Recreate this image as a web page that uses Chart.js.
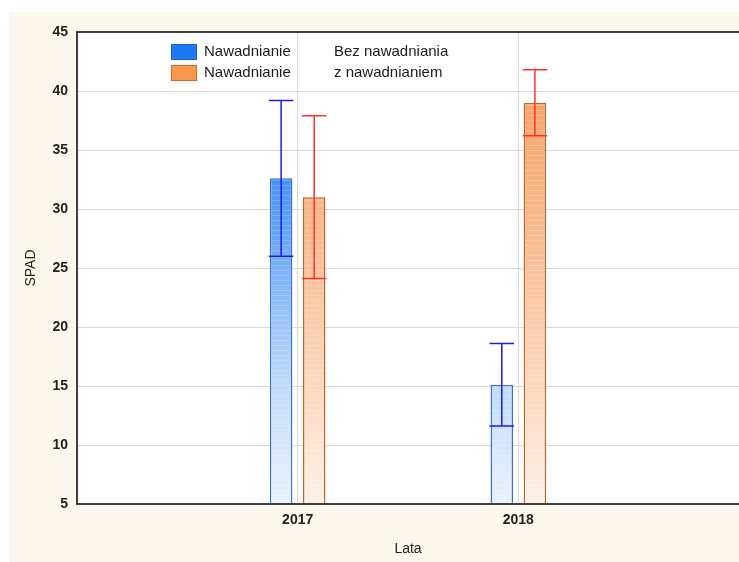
<!DOCTYPE html>
<html>
<head>
<meta charset="utf-8">
<script src="https://cdn.jsdelivr.net/npm/chart.js@4/dist/chart.umd.min.js"></script>
<style>
  html, body { margin: 0; padding: 0; background: #fff; }
  #wrap { width: 739px; height: 562px; position: relative; }
</style>
</head>
<body>
<div id="wrap"><canvas id="spadChart" width="739" height="562"></canvas></div>
<script>
// values
const years = ['2017', '2018'];
const factorName = 'Nawadnianie';
const seriesNames = ['Bez nawadniania', 'z nawadnianiem'];
const bezMean = [32.6, 15.1];
const bezLow = [26.0, 11.6];
const bezHigh = [39.2, 18.6];
const zMean = [31.0, 39.0];
const zLow = [24.1, 36.2];
const zHigh = [37.9, 41.8];
const yMin = 5, yMax = 45, yStep = 5;

// empty slots at both ends so the two years sit at 1/3 and 2/3 of the plot
const labels = [''].concat(years, ['']);
const pad = arr => [null].concat(arr, [null]);

const seriesStyle = [
    { line: '#3a6fd8', err: '#1c1cf0', box: '#1a7cf5', boxLine: '#2457c8',
      stops: [[0, '#1a7cf5'], [0.31, '#4592f3'], [0.75, '#c2dbf8'], [1, '#eaf3fd']] },
    { line: '#bb6428', err: '#ff3030', box: '#f7994f', boxLine: '#c86c2a',
      stops: [[0, '#f4954a'], [0.15, '#f6a46a'], [0.4, '#f8b98c'], [0.75, '#fbd8bf'], [1, '#fdf1e7']] }
];
const errLow = [bezLow, zLow];
const errHigh = [bezHigh, zHigh];

function gradientFill(i) {
    return function (ctx) {
        const ca = ctx.chart.chartArea;
        if (!ca) return seriesStyle[i].box;
        const g = ctx.chart.ctx.createLinearGradient(0, ca.top, 0, ca.bottom);
        seriesStyle[i].stops.forEach(s => g.addColorStop(s[0], s[1]));
        return g;
    };
}

const backdrop = {
    id: 'backdrop',
    beforeDraw(chart) {
        const c = chart.ctx, ca = chart.chartArea;
        c.save();
        c.fillStyle = '#fdf8ee';
        c.fillRect(9, 12, chart.width - 9, chart.height - 12);
        c.fillStyle = '#ffffff';
        c.fillRect(ca.left, ca.top, ca.right - ca.left, ca.bottom - ca.top);
        c.restore();
    }
};

const barsExtra = {
    id: 'barsExtra',
    afterDatasetsDraw(chart) {
        const c = chart.ctx, ca = chart.chartArea;
        const yScale = chart.scales.y;
        c.save();
        // faint horizontal banding inside bars
        chart.data.datasets.forEach((ds, di) => {
            chart.getDatasetMeta(di).data.forEach((el, i) => {
                if (ds.data[i] == null) return;
                const p = el.getProps(['x', 'y', 'base', 'width'], true);
                const l = p.x - p.width / 2 + 2, r = p.x + p.width / 2 - 2;
                const bottom = Math.min(p.base, ca.bottom);
                c.strokeStyle = 'rgba(255,255,255,0.18)';
                c.lineWidth = 1;
                for (let yy = bottom - 3.5; yy > p.y + 2; yy -= 5) {
                    c.beginPath();
                    c.moveTo(l, yy);
                    c.lineTo(r, yy);
                    c.stroke();
                }
            });
        });
        // error bars
        chart.data.datasets.forEach((ds, di) => {
            chart.getDatasetMeta(di).data.forEach((el, i) => {
                if (ds.data[i] == null) return;
                const p = el.getProps(['x', 'width'], true);
                const lo = yScale.getPixelForValue(errLow[di][i - 1]);
                const hi = yScale.getPixelForValue(errHigh[di][i - 1]);
                const half = p.width / 2 + 1;
                c.strokeStyle = seriesStyle[di].err;
                c.lineWidth = 1.5;
                c.beginPath();
                c.moveTo(p.x, lo); c.lineTo(p.x, hi);
                c.moveTo(p.x - half, hi); c.lineTo(p.x + half, hi);
                c.moveTo(p.x - half, lo); c.lineTo(p.x + half, lo);
                c.stroke();
            });
        });
        // plot frame (right side falls just outside the canvas)
        c.strokeStyle = '#404040';
        c.lineWidth = 2;
        c.strokeRect(ca.left, ca.top, ca.right - ca.left + 4, ca.bottom - ca.top);
        c.restore();
    }
};

const legendBox = {
    id: 'legendBox',
    afterDraw(chart) {
        const c = chart.ctx;
        c.save();
        c.font = '15px "Liberation Sans", Arial, sans-serif';
        c.textBaseline = 'middle';
        seriesNames.forEach((name, i) => {
            const top = 44 + i * 21;
            c.fillStyle = seriesStyle[i].box;
            c.fillRect(171, top, 26, 16);
            c.strokeStyle = seriesStyle[i].boxLine;
            c.lineWidth = 1;
            c.strokeRect(171.5, top + 0.5, 25, 15);
            c.fillStyle = '#1a1a1a';
            c.fillText(factorName, 204, top + 8);
            c.fillText(name, 334, top + 8);
        });
        c.restore();
    }
};

new Chart(document.getElementById('spadChart'), {
    type: 'bar',
    data: {
        labels: labels,
        datasets: [
            {
                label: seriesNames[0],
                data: pad(bezMean),
                backgroundColor: gradientFill(0),
                borderColor: seriesStyle[0].line,
                borderWidth: 1.5,
                categoryPercentage: 0.3,
                barPercentage: 0.68
            },
            {
                label: seriesNames[1],
                data: pad(zMean),
                backgroundColor: gradientFill(1),
                borderColor: seriesStyle[1].line,
                borderWidth: 1.5,
                categoryPercentage: 0.3,
                barPercentage: 0.68
            }
        ]
    },
    options: {
        responsive: false,
        animation: false,
        devicePixelRatio: 1,
        layout: { padding: { left: 0, top: 32, right: 0, bottom: 0 } },
        plugins: { legend: { display: false }, tooltip: { enabled: false } },
        scales: {
            x: {
                type: 'category',
                offset: false,
                grid: {
                    offset: false,
                    drawTicks: false,
                    color: ctx => (ctx.index > 0 && ctx.index < labels.length - 1) ? '#d9d9d9' : 'rgba(0,0,0,0)'
                },
                border: { display: false },
                ticks: {
                    padding: 8,
                    color: '#222',
                    font: { family: '"Liberation Sans", Arial, sans-serif', size: 14, weight: 'bold' },
                    autoSkip: false,
                    maxRotation: 0
                },
                title: {
                    display: true,
                    text: 'Lata',
                    color: '#222',
                    font: { family: '"Liberation Sans", Arial, sans-serif', size: 14 },
                    padding: { top: 0, bottom: 4 }
                },
                afterFit(scale) {
                    scale.height = 58;
                    scale.paddingLeft = 0;
                    scale.paddingRight = 0;
                }
            },
            y: {
                min: yMin,
                max: yMax,
                grid: {
                    drawTicks: false,
                    color: ctx => (ctx.tick.value === yMin || ctx.tick.value === yMax) ? 'rgba(0,0,0,0)' : '#d9d9d9'
                },
                border: { display: false },
                ticks: {
                    stepSize: yStep,
                    padding: 9,
                    color: '#222',
                    font: { family: '"Liberation Sans", Arial, sans-serif', size: 14, weight: 'bold' }
                },
                title: {
                    display: true,
                    text: 'SPAD',
                    color: '#222',
                    font: { family: '"Liberation Sans", Arial, sans-serif', size: 14 },
                    padding: { top: 23, bottom: 0 }
                },
                afterFit(scale) { scale.width = 77; }
            }
        }
    },
    plugins: [backdrop, barsExtra, legendBox]
});
</script>
</body>
</html>
